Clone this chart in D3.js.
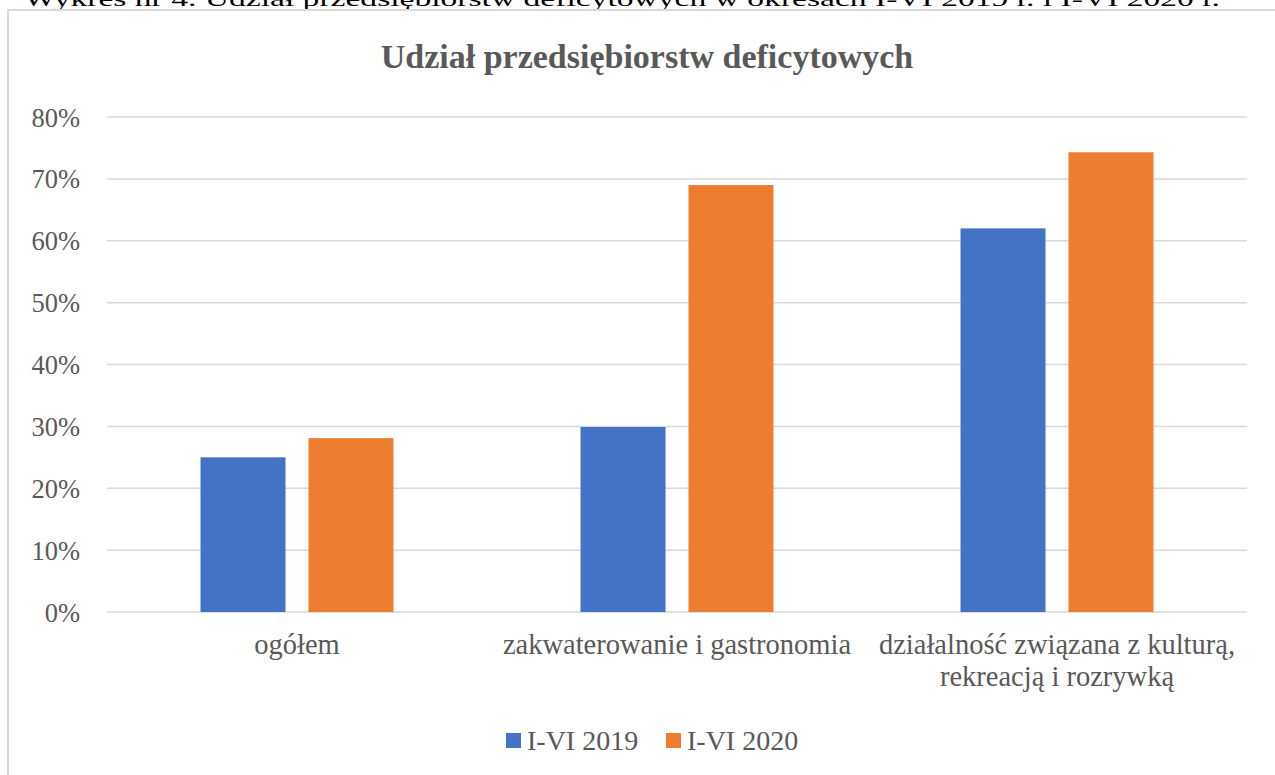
<!DOCTYPE html>
<html>
<head>
<meta charset="utf-8">
<script src="https://cdn.jsdelivr.net/npm/d3@7"></script>
<style>
  html, body { margin: 0; padding: 0; background: #fff; overflow: hidden; }
  svg { display: block; }
</style>
</head>
<body>
<svg id="chart" width="1275" height="775"></svg>
<script>
const categories = [
  ["ogółem"],
  ["zakwaterowanie i gastronomia"],
  ["działalność związana z kulturą,", "rekreacją i rozrywką"]
];
const seriesNames = ["I-VI 2019", "I-VI 2020"];
const values2019 = [0.25, 0.299, 0.62];
const values2020 = [0.281, 0.69, 0.743];
const yTicks = [0, 0.1, 0.2, 0.3, 0.4, 0.5, 0.6, 0.7, 0.8];
const colors = ["#4472C4", "#ED7D31"];
const titleText = "Udział przedsiębiorstw deficytowych";
const captionText = "Wykres nr 4. Udział przedsiębiorstw deficytowych w okresach I-VI 2019 r. i I-VI 2020 r.";

const svg = d3.select("#chart");
const textColor = "#595959";
const serif = "'Liberation Serif', 'Times New Roman', serif";

// caption cut off at top
svg.append("text")
  .attr("x", 24).attr("y", 6)
  .attr("font-family", serif).attr("font-size", 22)
  .attr("textLength", 1196).attr("lengthAdjust", "spacingAndGlyphs")
  .attr("fill", "#000")
  .text(captionText);

// chart area border
svg.append("rect")
  .attr("x", 8).attr("y", 10).attr("width", 1300).attr("height", 820)
  .attr("fill", "none").attr("stroke", "#d9d9d9").attr("stroke-width", 2);

const x0 = d3.scaleBand().domain(d3.range(categories.length)).range([107, 1247]).padding(0);
const x1 = d3.scaleBand().domain(seriesNames).range([0, x0.bandwidth()])
  .paddingInner(0.213).paddingOuter(0.866);
const y = d3.scaleLinear().domain([0, 0.8]).range([612, 117]);

// gridlines
svg.append("g").selectAll("line").data(yTicks).join("line")
  .attr("x1", 107).attr("x2", 1247)
  .attr("y1", d => y(d)).attr("y2", d => y(d))
  .attr("stroke", "#d9d9d9").attr("stroke-width", 1.5);

// y axis labels
const yAxis = d3.axisLeft(y).tickValues(yTicks).tickFormat(d3.format(".0%")).tickSize(0).tickPadding(0);
const ya = svg.append("g").attr("transform", "translate(80,0)").call(yAxis);
ya.select(".domain").remove();
ya.selectAll("text")
  .attr("font-family", serif).attr("font-size", 26.5).attr("fill", textColor)
  .attr("dy", "0.34em");

// bars
const data = categories.map((c, i) => ({ i, vals: [values2019[i], values2020[i]] }));
const groups = svg.append("g").selectAll("g").data(data).join("g")
  .attr("transform", d => `translate(${x0(d.i)},0)`);
groups.selectAll("rect").data(d => d.vals.map((v, k) => ({ k, v }))).join("rect")
  .attr("x", d => x1(seriesNames[d.k]))
  .attr("width", x1.bandwidth())
  .attr("y", d => y(d.v))
  .attr("height", d => y(0) - y(d.v))
  .attr("fill", d => colors[d.k]);

// category labels
const cl = svg.append("g").selectAll("text").data(categories).join("text")
  .attr("x", (d, i) => x0(i) + x0.bandwidth() / 2)
  .attr("y", 654)
  .attr("text-anchor", "middle")
  .attr("font-family", serif).attr("font-size", 28.5).attr("fill", textColor);
cl.each(function (lines) {
  d3.select(this).selectAll("tspan").data(lines).join("tspan")
    .attr("x", d3.select(this).attr("x"))
    .attr("dy", (d, j) => j === 0 ? 0 : 32)
    .text(d => d);
});

// title
svg.append("text")
  .attr("x", 647).attr("y", 68)
  .attr("text-anchor", "middle")
  .attr("font-family", serif).attr("font-size", 34).attr("font-weight", "bold")
  .attr("fill", textColor)
  .text(titleText);

// legend
const legendX = [506, 666];
const lg = svg.append("g").selectAll("g").data(seriesNames).join("g")
  .attr("transform", (d, i) => `translate(${legendX[i]},733)`);
lg.append("rect").attr("width", 15).attr("height", 15).attr("fill", (d, i) => colors[i]);
lg.append("text").attr("x", 21).attr("y", 17)
  .attr("font-family", serif).attr("font-size", 28).attr("fill", textColor)
  .text(d => d);
</script>
</body>
</html>
